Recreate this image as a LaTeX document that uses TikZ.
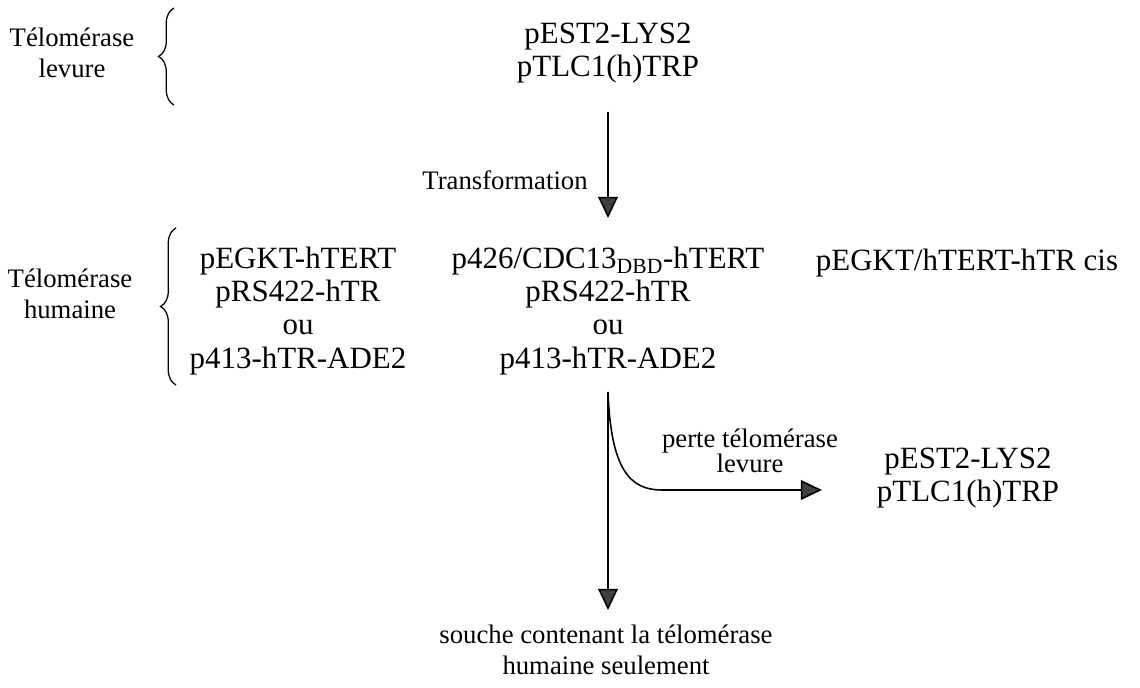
\documentclass[tikz,border=0pt]{standalone}
\usepackage{fontspec}
\setmainfont{Liberation Serif}
\usetikzlibrary{arrows.meta,decorations.pathreplacing}

\tikzset{
  plasmid/.style={align=center, inner sep=0pt, font=\fontsize{22}{23.5}\selectfont},
  remark/.style={align=center, inner sep=0pt, font=\fontsize{19}{22.5}\selectfont},
  step arrow/.style={line width=1.1pt, -{Triangle[length=15pt, width=14pt, fill=black!75]}},
  bracket/.style={line width=0.9pt, decorate, decoration={brace, amplitude=11pt, aspect=0.5}}
}

\begin{document}
\begin{tikzpicture}[x=0.025cm, y=-0.025cm]
\useasboundingbox (0,0) rectangle (1140,688);

% yeast telomerase
\node[remark] (yeast) at (72,53) {Télomérase\\levure};
\node[plasmid] (start) at (608,53) {pEST2-LYS2\\pTLC1(h)TRP};
\draw[bracket] (174,105) -- (174,8);

\coordinate (a1top) at (608,112);
\coordinate (a1end) at (608,218);
\draw[step arrow] (a1top) -- (a1end);
\node[remark] (transfo) at (505,180) {Transformation};

% human telomerase
\node[remark] (human) at (70,294) {Télomérase\\humaine};
\draw[bracket] (176,385) -- (176,228);
\node[plasmid] (setA) at (298,311) {pEGKT-hTERT\\pRS422-hTR\\ou\\p413-hTR-ADE2};
\node[plasmid] (setB) at (608,311) {p426/CDC13\textsubscript{DBD}-hTERT\\pRS422-hTR\\ou\\p413-hTR-ADE2};
\node[plasmid, anchor=north] (setC) at (967,249) {pEGKT/hTERT-hTR cis};

% loss of yeast telomerase
\coordinate (a2top) at (608,392);
\coordinate (a2end) at (608,610);
\coordinate (bend) at (662,490);
\coordinate (a3end) at (822,490);
\draw[step arrow] (a2top) -- (a2end);
\draw[step arrow] (a2top) .. controls (611,470) and (630,490) .. (bend) -- (a3end);
\node[remark, font=\fontsize{19}{18}\selectfont] (loss) at (750,451) {perte télomérase\\levure};
\node[plasmid] (lost) at (968,478) {pEST2-LYS2\\pTLC1(h)TRP};

\node[remark] (final) at (606,650) {souche contenant la télomérase\\humaine seulement};

\end{tikzpicture}
\end{document}
